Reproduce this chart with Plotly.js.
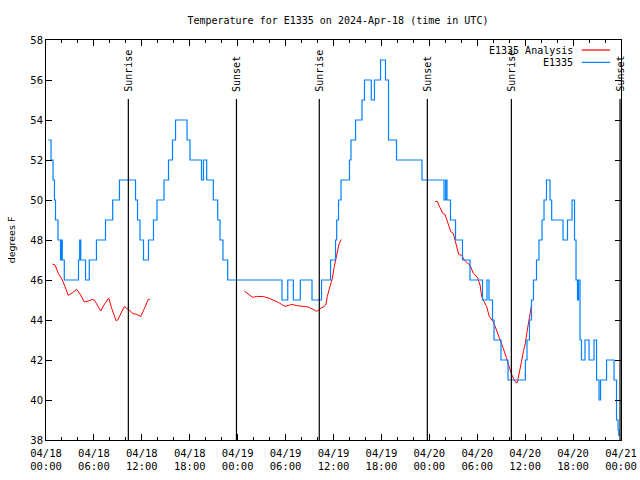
<!DOCTYPE html>
<html>
<head>
<meta charset="utf-8">
<script src="https://cdn.plot.ly/plotly-3.0.1.min.js"></script>
<style>html,body{margin:0;padding:0;background:#fff;}#chart{width:640px;height:480px;}</style>
</head>
<body>
<div id="chart"></div>
<script>
// Hours after 2024-04-18 00:00 UTC
const startDate = Date.UTC(2024, 3, 18, 0, 0, 0);

// Observed E1335 temperature (°F) — step changes
const obsHours = [0.29,0.63,0.88,1.06,1.19,1.50,1.82,1.92,2.04,2.29,4.07,4.22,4.35,4.95,5.42,6.32,7.45,8.35,9.20,
  11.21,11.46,11.77,12.21,12.83,13.46,13.90,14.78,15.34,15.84,16.22,17.66,18.03,19.47,19.72,20.12,20.95,21.50,21.79,22.16,22.75,
  29.55,30.27,30.97,31.84,33.31,34.50,35.63,36.25,36.40,36.63,36.94,38.00,38.19,38.76,39.57,39.88,40.73,41.13,41.89,42.51,42.89,43.89,
  47.08,49.84,50.05,50.21,50.65,51.28,52.15,53.09,54.66,55.22,55.47,55.91,56.10,56.97,57.85,
  60.02,60.23,60.54,60.79,61.04,61.42,61.73,62.11,62.36,62.67,63.11,63.32,64.74,65.30,65.87,66.18,66.37,66.55,66.68,66.87,67.05,
  67.49,68.00,68.62,68.94,69.25,69.44,70.19,71.13,71.44,71.63,71.72];
const obsTemps = [53,52,51,50,49,48,47,48,47,46,47,48,47,46,47,48,49,50,51,
  50,49,48,47,48,49,50,51,52,53,54,53,52,51,52,51,50,49,48,47,46,
  45,46,45,46,45,46,47,48,49,50,51,52,53,54,55,56,55,56,57,56,53,52,
  51,50,51,50,49,48,47,46,45,46,45,44,43,42,41,
  42,43,44,45,46,47,48,49,50,51,50,49,48,49,50,48,46,45,46,43,42,
  43,42,43,41,40,41,42,41,39,38.5,38.2];

// Analysis segments
const an1Hours = [0.79,1.13,1.54,1.84,2.04,2.38,2.79,3.34,3.84,4.26,4.80,5.30,5.80,6.05,6.42,6.85,7.26,7.85,8.23,8.77,8.98,9.39,9.80,10.31,10.86,11.36,11.86,12.27,12.61,12.81,13.02];
const an1Temps = [46.80,46.75,46.33,46.13,46.00,45.67,45.23,45.37,45.53,45.30,44.90,44.95,45.03,45.00,44.75,44.45,44.75,45.10,44.58,43.97,44.00,44.37,44.67,44.53,44.33,44.28,44.18,44.53,44.87,45.03,45.03];
const an2Hours = [24.83,25.13,25.55,25.88,26.38,27.21,27.84,28.46,29.09,29.51,29.93,30.34,30.77,31.39,32.22,32.85,33.47,33.90,34.31,34.81,35.06,35.22,35.56,35.85,36.10,36.40,36.69,36.98];
const an2Temps = [45.45,45.37,45.25,45.13,45.18,45.17,45.10,45.00,44.88,44.78,44.68,44.73,44.78,44.72,44.70,44.65,44.53,44.43,44.57,44.67,44.80,45.17,45.67,46.08,46.67,47.33,47.80,48.03];
const an3Hours = [48.71,49.00,49.34,49.67,49.96,50.25,50.68,51.00,51.34,51.68,52.05,52.34,52.68,53.09,53.51,54.01,54.35,54.56,54.85,55.18,55.51,55.94,56.22,56.56,56.94,57.26,57.60,57.94,58.32,58.60,58.82,59.02,59.27,59.52,59.77,60.02,60.27,60.52,60.82];
const an3Temps = [49.93,49.92,49.62,49.33,49.28,48.92,48.42,48.33,47.75,47.28,47.23,47.03,46.87,46.75,46.33,46.13,45.75,45.17,44.92,44.67,44.17,43.95,43.70,43.33,43.00,42.58,42.17,41.67,41.25,41.03,40.88,40.88,41.33,41.87,42.42,42.83,43.50,44.17,44.80];

const sunriseHours = [10.31, 34.22, 58.27];
const sunsetHours = [23.85, 47.75, 71.88];

const titleText = 'Temperature for E1335 on 2024-Apr-18 (time in UTC)';
const yTitleText = 'degrees F';
const seriesNames = ['E1335 Analysis', 'E1335'];
const seriesColors = ['#ff0000', '#0080ff'];

function pad(n){return (n<10?'0':'')+n;}
function toDate(h){
  const d = new Date(startDate + Math.round(h*3600000));
  return d.getUTCFullYear()+'-'+pad(d.getUTCMonth()+1)+'-'+pad(d.getUTCDate())+' '+pad(d.getUTCHours())+':'+pad(d.getUTCMinutes())+':'+pad(d.getUTCSeconds());
}

const mono = 'DejaVu Sans Mono, monospace';
const sans = 'DejaVu Sans, sans-serif';

const traces = [];
[[an1Hours,an1Temps],[an2Hours,an2Temps],[an3Hours,an3Temps]].forEach(function(s){
  traces.push({x: s[0].map(toDate), y: s[1], type:'scatter', mode:'lines', line:{color:seriesColors[0], width:1}, name:seriesNames[0], showlegend:false, hoverinfo:'skip'});
});
traces.push({x: obsHours.map(toDate), y: obsTemps, type:'scatter', mode:'lines', line:{color:seriesColors[1], width:1.2, shape:'hv'}, name:seriesNames[1], showlegend:false, hoverinfo:'skip'});

const shapes = [];
const annotations = [];
const labelY = 55.375, lineTop = 55.05;
sunriseHours.forEach(function(h){
  shapes.push({type:'line', xref:'x', yref:'y', x0:toDate(h), x1:toDate(h), y0:38, y1:lineTop, line:{color:'black', width:1.2}});
  annotations.push({x:toDate(h), y:labelY, xref:'x', yref:'y', text:'Sunrise', textangle:-90, showarrow:false, xanchor:'center', yanchor:'bottom', font:{family:mono, size:10, color:'black'}, borderpad:0});
});
sunsetHours.forEach(function(h){
  shapes.push({type:'line', xref:'x', yref:'y', x0:toDate(h), x1:toDate(h), y0:38, y1:lineTop, line:{color:'black', width:1.2}});
  annotations.push({x:toDate(h), y:labelY, xref:'x', yref:'y', text:'Sunset', textangle:-90, showarrow:false, xanchor:'center', yanchor:'bottom', font:{family:mono, size:10, color:'black'}, borderpad:0});
});

// custom gnuplot-style legend (text then line sample)
const legYs = [0.975, 0.944];
seriesNames.forEach(function(n,i){
  annotations.push({xref:'paper', yref:'paper', x:0.919, y:legYs[i], text:n, showarrow:false, xanchor:'right', yanchor:'middle', font:{family:mono, size:10, color:'black'}, borderpad:0});
  shapes.push({type:'line', xref:'paper', yref:'paper', x0:0.9317, x1:0.981, y0:legYs[i], y1:legYs[i], line:{color:seriesColors[i], width:1.2}});
});

const layout = {
  width:640, height:480,
  margin:{l:46, r:19, t:40, b:40, pad:0},
  paper_bgcolor:'white', plot_bgcolor:'white',
  showlegend:false,
  title:{text:titleText, x:0.528, xanchor:'center', y:0.958, yanchor:'middle', font:{family:mono, size:10, color:'black'}},
  xaxis:{
    type:'date', range:[toDate(0), toDate(72)],
    tick0:toDate(0), dtick:6*3600000, tickformat:'%m/%d<br>%H:%M',
    ticks:'inside', ticklen:6, tickcolor:'black', tickwidth:1,
    minor:{dtick:2*3600000, ticks:'inside', ticklen:3, tickcolor:'black', tickwidth:1, showgrid:false},
    showline:true, linecolor:'black', linewidth:1, mirror:'ticks',
    showgrid:false, zeroline:false,
    ticklabelstandoff:3,
    tickfont:{family:mono, size:10.5, color:'black'}
  },
  yaxis:{
    range:[38,58], dtick:2, tick0:38,
    ticks:'inside', ticklen:6, tickcolor:'black', tickwidth:1,
    showline:true, linecolor:'black', linewidth:1, mirror:'ticks',
    showgrid:false, zeroline:false,
    tickfont:{family:sans, size:10, color:'black'},
    title:{text:yTitleText, font:{family:sans, size:9.5, color:'black'}, standoff:12}
  },
  shapes:shapes,
  annotations:annotations
};

Plotly.newPlot('chart', traces, layout, {staticPlot:true, displayModeBar:false});
</script>
</body>
</html>
